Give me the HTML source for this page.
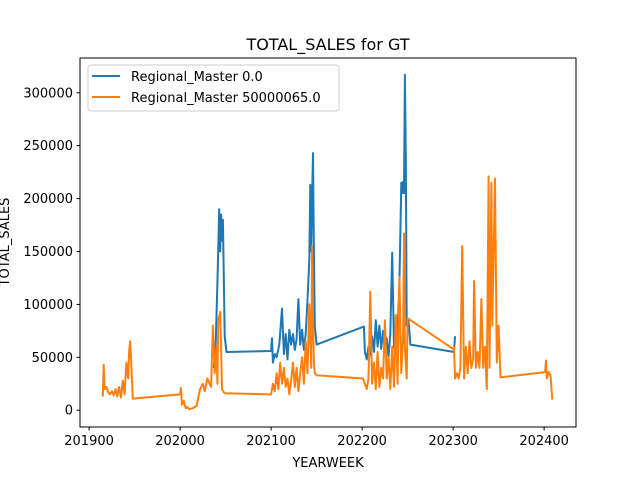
<!DOCTYPE html>
<html><head><meta charset="utf-8"><style>
body{margin:0;background:#fff;}
svg text{font-family:"DejaVu Sans","Liberation Sans",sans-serif;}
</style></head><body>
<svg id="chart" width="640" height="480" xmlns="http://www.w3.org/2000/svg">
<rect width="640" height="480" fill="#fff"/>
<text x="328" y="50" font-size="16" text-anchor="middle">TOTAL_SALES for GT</text>
<g id="plot"></g>
<rect x="80" y="58" width="496" height="369" fill="none" stroke="#000" stroke-width="1"/>
<g id="ticks"></g>
<text x="328" y="467" font-size="13" text-anchor="middle">YEARWEEK</text>
<text transform="translate(9,242) rotate(-90)" font-size="13" text-anchor="middle">TOTAL_SALES</text>
<g>
<rect x="88" y="65" width="251" height="46" rx="3" fill="#fff" fill-opacity="0.8" stroke="#ccc"/>
<line x1="92" y1="76" x2="120" y2="76" stroke="#1f77b4" stroke-width="2"/>
<text x="131" y="81" font-size="13">Regional_Master 0.0</text>
<line x1="92" y1="97" x2="120" y2="97" stroke="#ff7f0e" stroke-width="2"/>
<text x="131" y="102" font-size="13">Regional_Master 50000065.0</text>
</g>
</svg>
<script>
const xTicks=[201900,202000,202100,202200,202300,202400];
const yTicks=[0,50000,100000,150000,200000,250000,300000];
const blueWeeks=[202037,202039,202041,202043,202044,202045,202046,202047,202049,202051,202100,202101,202102,202104,202106,202109,202112,202114,202116,202118,202120,202122,202124,202126,202128,202130,202132,202134,202136,202138,202140,202142,202143,202144,202145,202146,202147,202148,202150,202202,202203,202205,202207,202209,202211,202213,202215,202217,202219,202221,202223,202225,202227,202229,202231,202233,202235,202237,202239,202241,202243,202244,202245,202246,202247,202248,202249,202251,202253,202301,202302];
const blueVals=[40000,60000,120000,190000,150000,185000,160000,180000,70000,55000,56000,68000,45000,53000,50000,62000,96000,53000,72000,48000,76000,62000,72000,57000,67000,105000,62000,76000,57000,72000,104000,142000,213000,150000,200000,243000,150000,80000,62000,79000,55000,48000,60000,52000,70000,55000,85000,60000,80000,58000,75000,55000,68000,50000,72000,149000,60000,55000,75000,120000,215000,205000,216000,205000,317000,240000,80000,85000,62000,55000,70000];
const orangeWeeks=[
201915,201916,201917,201919,201921,201923,201925,201927,201929,201931,201933,201935,201937,201939,201941,201943,201944,201945,201946,201948,
202000,202001,202002,202004,202006,202008,202010,202014,202018,202022,202025,202027,202030,202032,202034,202036,202038,202040,202041,202042,202044,202045,202046,202048,202050,
202100,202102,202104,202106,202108,202110,202112,202114,202116,202118,202120,202122,202124,202126,202128,202130,202132,202134,202136,202138,202140,202142,202144,202145,202146,202147,202148,202150,
202201,202203,202205,202207,202209,202211,202213,202215,202217,202219,202221,202223,202225,202227,202229,202231,202233,202235,202237,202239,202241,202243,202245,202246,202247,202249,202250,
202300,202301,202302,202304,202306,202308,202310,202312,202314,202316,202318,202320,202322,202323,202325,202327,202329,202331,202333,202335,202337,202339,202340,202342,202343,202346,202348,202350,202352,
202401,202402,202403,202405,202407,202409];
const orangeVals=[
13000,43000,20000,22000,17000,15000,18000,14000,20000,13000,22000,12000,28000,15000,45000,30000,55000,65000,50000,11000,
15000,21000,5000,9000,2000,3000,1000,2000,4000,20000,25000,18000,30000,26000,22000,80000,35000,60000,25000,85000,93000,60000,20000,17000,16000,
15000,25000,18000,35000,20000,45000,25000,40000,22000,30000,15000,28000,45000,22000,40000,18000,35000,50000,25000,65000,35000,100000,40000,155000,85000,45000,35000,33000,
30000,25000,20000,30000,112000,25000,45000,20000,55000,22000,40000,30000,85000,30000,50000,20000,60000,22000,90000,25000,126000,35000,70000,167000,60000,30000,87000,
58000,60000,30000,35000,30000,40000,155000,30000,60000,35000,65000,40000,50000,122000,40000,55000,40000,105000,40000,60000,20000,221000,40000,215000,80000,219000,45000,80000,31000,
36000,47000,30000,36000,33000,10000];
const X0=80,X1=576,Y0=58,Y1=427,xmin=201890,xmax=202435,ymin=-15850,ymax=332850;
const xs=v=>X0+(v-xmin)/(xmax-xmin)*(X1-X0);
const ys=v=>Y1-(v-ymin)/(ymax-ymin)*(Y1-Y0);
const NS="http://www.w3.org/2000/svg";
const plot=document.getElementById('plot'),tk=document.getElementById('ticks');
function line(ws,vs,col,name){
  const p=document.createElementNS(NS,'polyline');
  p.setAttribute('points',ws.map((w,i)=>xs(w).toFixed(1)+','+ys(vs[i]).toFixed(1)).join(' '));
  p.setAttribute('fill','none');p.setAttribute('stroke',col);p.setAttribute('stroke-width','2');p.setAttribute('stroke-linejoin','round');
  
  
  plot.appendChild(p);
}
line(blueWeeks,blueVals,'#1f77b4','series-regional-master-0');
line(orangeWeeks,orangeVals,'#ff7f0e','series-regional-master-50000065');
xTicks.forEach(t=>{
  const x=xs(t);
  const l=document.createElementNS(NS,'line');
  l.setAttribute('x1',x);l.setAttribute('x2',x);l.setAttribute('y1',Y1);l.setAttribute('y2',Y1+3.5);l.setAttribute('stroke','#000');
  
  
  tk.appendChild(l);
  const s=document.createElementNS(NS,'text');
  s.setAttribute('x',x);s.setAttribute('y',Y1+18);s.setAttribute('font-size','13');s.setAttribute('text-anchor','middle');s.textContent=t;
  
  
  tk.appendChild(s);
});
yTicks.forEach(t=>{
  const y=ys(t);
  const l=document.createElementNS(NS,'line');
  l.setAttribute('x1',X0-3.5);l.setAttribute('x2',X0);l.setAttribute('y1',y);l.setAttribute('y2',y);l.setAttribute('stroke','#000');
  
  
  tk.appendChild(l);
  const s=document.createElementNS(NS,'text');
  s.setAttribute('x',X0-7);s.setAttribute('y',y+4.5);s.setAttribute('font-size','13');s.setAttribute('text-anchor','end');s.textContent=t;
  
  
  tk.appendChild(s);
});
</script>
</body></html>
